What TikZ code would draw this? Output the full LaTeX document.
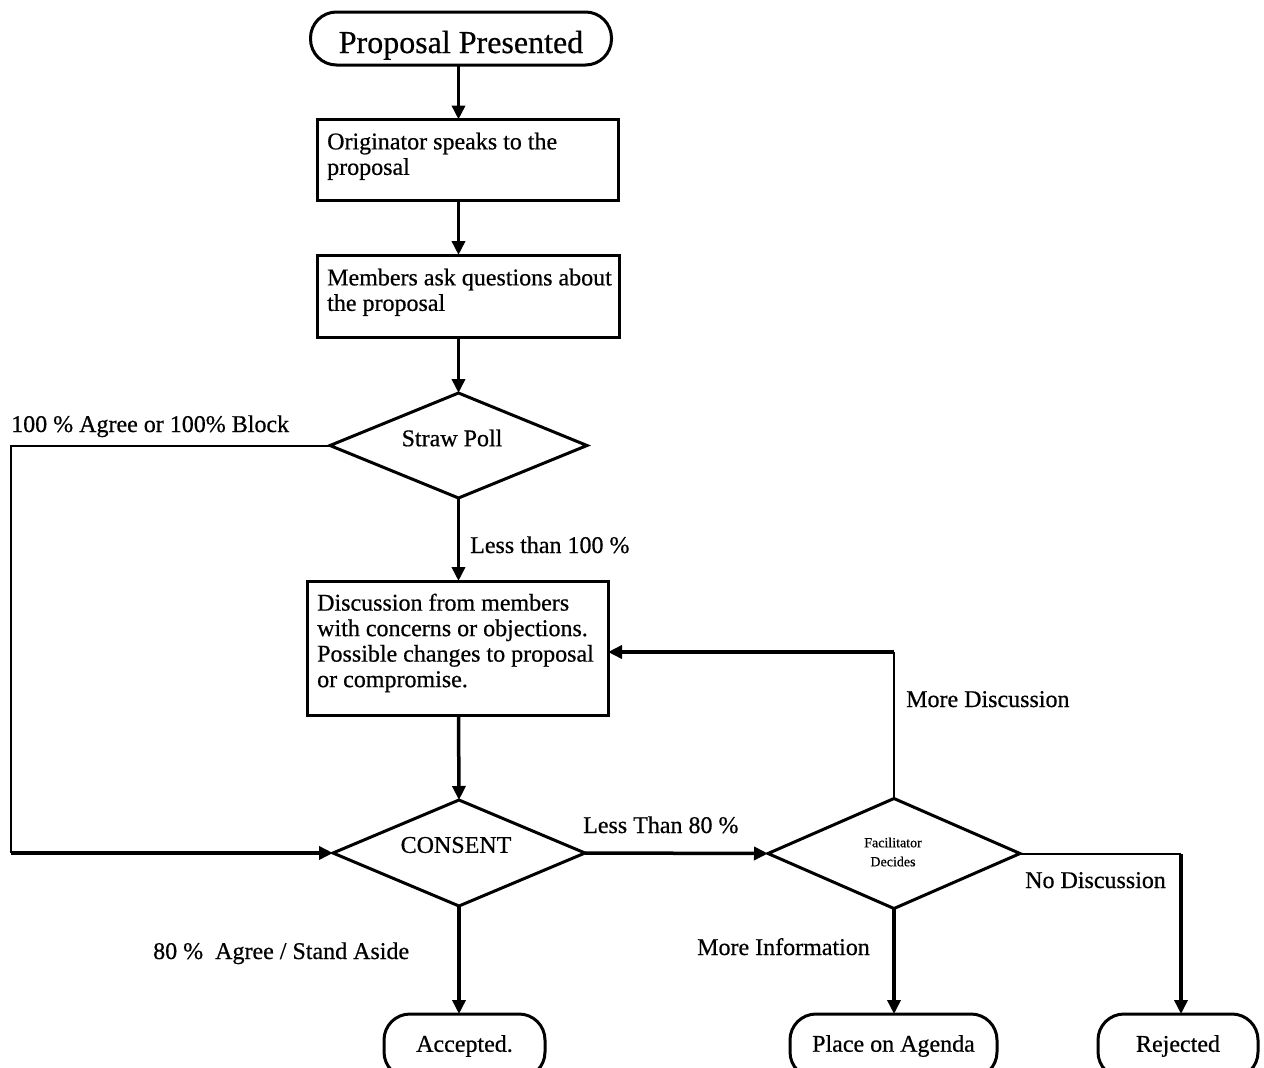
\documentclass[tikz,border=0pt]{standalone}
\usepackage{fontspec}
\setmainfont{Liberation Serif}[FakeBold=0.6]
\usetikzlibrary{shapes.geometric,arrows.meta}
\begin{document}
\begin{tikzpicture}[x=1pt,y=-1pt,
  thickln/.style={line width=3.5pt},
  thinln/.style={line width=2pt},
  arr/.style={-{Triangle[length=14pt,width=13pt]}},
  box/.style={draw,line width=3pt,rectangle,inner sep=0pt,outer sep=0pt},
  dia/.style={draw,line width=3pt,diamond,inner sep=0pt,outer sep=0pt},
  term/.style={draw,line width=3pt,rectangle,inner sep=0pt,outer sep=0pt},
  txt/.style={align=left,inner sep=0pt,font=\fontsize{24}{25.5}\selectfont},
  lbl/.style={inner sep=0pt,anchor=base west,font=\fontsize{24}{25.5}\selectfont}
]
\useasboundingbox (0,0) rectangle (1264,1068);
\fill[white] (0,0) rectangle (1264,1068);
\clip (0,0) rectangle (1264,1068);

% start terminal
\node[term,minimum width=301pt,minimum height=53pt,rounded corners=26pt] (start) at (461,38.5) {};
\node[inner sep=0pt,anchor=base,font=\fontsize{32}{36}\selectfont] (startt) at (461,53) {Proposal Presented};

% process boxes
\node[box,minimum width=301pt,minimum height=81pt] (b1) at (468,160) {};
\node[txt,anchor=north west] (b1t) at (327,132.5) {Originator speaks to the\\proposal};
\node[box,minimum width=302pt,minimum height=82pt] (b2) at (468.5,296) {};
\node[txt,anchor=north west] (b2t) at (327,268.5) {Members ask questions about\\the proposal};

% straw poll
\node[dia,minimum width=257pt,minimum height=105pt] (sp) at (458.5,445.5) {};
\node[txt] (spt) at (452,438) {Straw Poll};

% discussion box
\node[box,minimum width=301pt,minimum height=134pt] (b3) at (457.5,648) {};
\node[txt,anchor=north west] (b3t) at (317,593.5) {Discussion from members\\with concerns or objections.\\Possible changes to proposal\\or compromise.};

% consent
\node[dia,minimum width=252pt,minimum height=106pt] (con) at (459,853) {};
\node[txt] (cont) at (456,845) {CONSENT};

% facilitator
\node[dia,minimum width=252pt,minimum height=110pt] (fac) at (894,853.5) {};
\node[inner sep=0pt,align=center,font=\fontsize{14}{19}\selectfont] (fact) at (893,852) {Facilitator\\Decides};

% end terminals
\node[term,minimum width=161pt,minimum height=64pt,rounded corners=26pt,font=\fontsize{24}{25.5}\selectfont] (acc) at (464.5,1046) {Accepted.};
\node[term,minimum width=207pt,minimum height=64pt,rounded corners=26pt,font=\fontsize{24}{25.5}\selectfont] (pa) at (893.5,1046) {Place on Agenda};
\node[term,minimum width=160pt,minimum height=64pt,rounded corners=26pt,font=\fontsize{24}{25.5}\selectfont] (rej) at (1178,1046) {Rejected};

% connectors
\draw[thickln,arr] (start.south -| sp.north) -- (b1.north -| sp.north);
\draw[thickln,arr] (b1.south -| sp.north) -- (b2.north -| sp.north);
\draw[thickln,arr] (b2.south -| sp.north) -- (sp.north);
\draw[thickln,arr] (sp.south) -- (b3.north -| sp.south);
\draw[thickln,arr] (b3.south -| sp.south) -- (con.north);
\draw[thickln,arr] (con.south) -- (con.south |- acc.north);

\coordinate (lt) at (11,445.5);
\coordinate (lb) at (11,853);
\draw[thinln] (sp.west) -- (lt) -- (lb);
\draw[thickln,arr] (lb) -- (con.west);

\draw[thickln,arr] (con.east) -- (fac.west);

\coordinate (md) at (894,652);
\draw[thinln] (fac.north) -- (md);
\draw[thickln,arr] (md) -- (b3.east |- md);

\coordinate (nd) at (1181,853.5);
\draw[thinln] (fac.east) -- (nd);
\draw[thickln,arr] (nd) -- (nd |- rej.north);

\draw[thickln,arr] (fac.south) -- (fac.south |- pa.north);

% labels
\node[lbl] (l1) at (11,432) {100 \% Agree or 100\% Block};
\node[lbl] (l2) at (470,553) {Less than 100 \%};
\node[lbl] (l3) at (906,707) {More Discussion};
\node[lbl] (l4) at (583,833) {Less Than 80 \%};
\node[lbl] (l5) at (1025,888) {No Discussion};
\node[lbl] (l6) at (153,959) {80 \%\ \ Agree / Stand Aside};
\node[lbl] (l7) at (697,955) {More Information};
\end{tikzpicture}
\end{document}
